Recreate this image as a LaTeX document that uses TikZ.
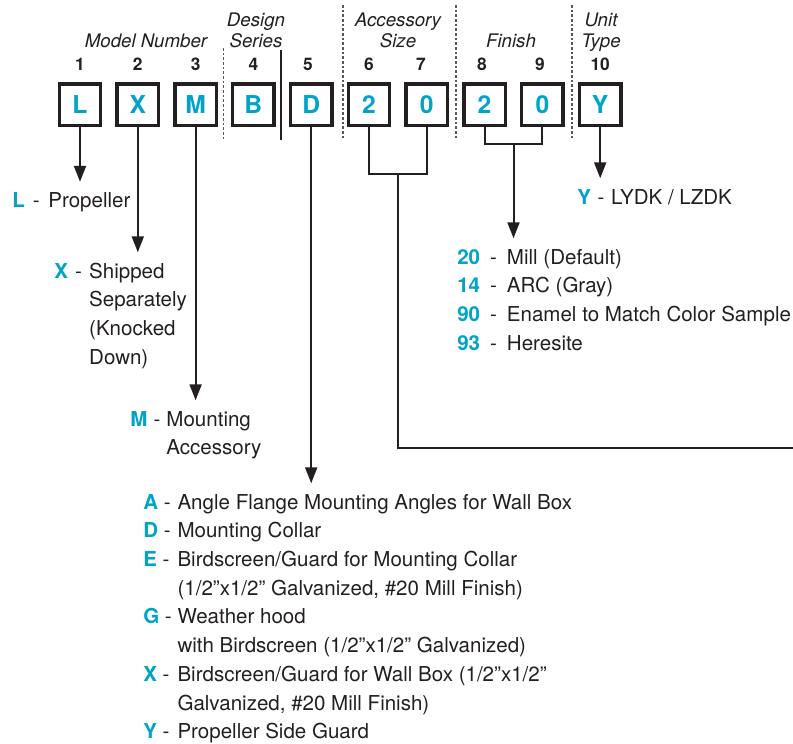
\documentclass[tikz,border=0pt]{standalone}
\usepackage{fontspec}
\setmainfont{TeX Gyre Heros}
\usetikzlibrary{arrows.meta}
\definecolor{codecyan}{RGB}{0,164,199}
\definecolor{inkgray}{RGB}{35,31,32}
\newcommand{\cde}[1]{\textcolor{codecyan}{\bfseries #1}}

\begin{document}
\begin{tikzpicture}[
    x=0.75pt, y=-0.75pt,
    every node/.style={inner sep=0pt, text=inkgray},
    digit/.style={draw=inkgray, line width=2.6pt, minimum size=31.1pt, font=\fontsize{18.5}{20}\selectfont\bfseries, text=codecyan},
    posnum/.style={anchor=base, font=\fontsize{13}{15}\selectfont\bfseries},
    grouplabel/.style={anchor=base, font=\fontsize{14}{15.75}\selectfont\itshape},
    note/.style={anchor=base west, font=\fontsize{15.4}{21.56}\selectfont},
    line/.style={draw=inkgray, line width=1.5pt},
    arrow/.style={line, -{Triangle[length=12pt,width=9pt]}, shorten >=4pt},
    divider/.style={draw=inkgray!75, line width=0.8pt, dash pattern=on 2pt off 1.5pt}
]
\useasboundingbox (0,0) rectangle (793,743);

% ---- group headings ----
\node[grouplabel] (gModel)  at (146,47) {Model Number};
\node[grouplabel] (gDesign) at (256,47) {\begin{tabular}[b]{@{}c@{}}Design\\Series\end{tabular}};
\node[grouplabel] (gSize)   at (398,47) {\begin{tabular}[b]{@{}c@{}}Accessory\\Size\end{tabular}};
\node[grouplabel] (gFinish) at (511,47) {Finish};
\node[grouplabel] (gUnit)   at (601,47) {\begin{tabular}[b]{@{}c@{}}Unit\\Type\end{tabular}};

% ---- position numbers ----
\node[posnum] (n1)  at (80,70)    {1};
\node[posnum] (n2)  at (137.8,70) {2};
\node[posnum] (n3)  at (195.6,70) {3};
\node[posnum] (n4)  at (253.4,70) {4};
\node[posnum] (n5)  at (308,70)   {5};
\node[posnum] (n6)  at (369,70)   {6};
\node[posnum] (n7)  at (421,70)   {7};
\node[posnum] (n8)  at (482,70)   {8};
\node[posnum] (n9)  at (540,70)   {9};
\node[posnum] (n10) at (600.2,70) {10};

% ---- code boxes ----
\node[digit] (bL) at (80,104.5)    {L};
\node[digit] (bX) at (137.8,104.5) {X};
\node[digit] (bM) at (195.6,104.5) {M};
\node[digit] (bB) at (253.4,104.5) {B};
\node[digit] (bD) at (311.2,104.5) {D};
\node[digit] (b6) at (369,104.5)   {2};
\node[digit] (b7) at (426.8,104.5) {0};
\node[digit] (b8) at (484.6,104.5) {2};
\node[digit] (b9) at (542.4,104.5) {0};
\node[digit] (bY) at (600.2,104.5) {Y};

% ---- separators between groups ----
\draw[divider] (223.5,48) -- (223.5,140);
\draw[draw=inkgray, line width=0.9pt] (281,50) -- (281,140);
\draw[divider] (343,5) -- (343,140);
\draw[divider] (456,5) -- (456,140);
\draw[divider] (572,5) -- (572,140);

% ---- option texts ----
\node[note] (lL) at (12,207.5) {\begin{tabular}[t]{@{}l@{\hspace{6.5pt}}l@{}}
  \cde{L}\hspace{6pt}- & Propeller\end{tabular}};
\node[note] (lX) at (54,278) {\begin{tabular}[t]{@{}l@{\hspace{5.4pt}}l@{}}
  \cde{X}\hspace{5.4pt}- & Shipped\\ & Separately\\ & (Knocked\\ & Down)\end{tabular}};
\node[note] (lM) at (130,426) {\begin{tabular}[t]{@{}l@{\hspace{4.6pt}}l@{}}
  \cde{M}\hspace{4.6pt}- & Mounting\\ & Accessory\end{tabular}};
\node[note] (lD) at (143,509) {\begin{tabular}[t]{@{}l@{\hspace{4.3pt}}l@{}}
  \cde{A}\hspace{4.3pt}- & Angle Flange Mounting Angles for Wall Box\\
  \cde{D}\hspace{4.3pt}- & Mounting Collar\\
  \cde{E}\hspace{4.3pt}- & Birdscreen/Guard for Mounting Collar\\
                         & (1/2”x1/2” Galvanized, \#20 Mill Finish)\\
  \cde{G}\hspace{4.3pt}- & Weather hood\\
                         & with Birdscreen (1/2”x1/2” Galvanized)\\
  \cde{X}\hspace{4.3pt}- & Birdscreen/Guard for Wall Box (1/2”x1/2”\\
                         & Galvanized, \#20 Mill Finish)\\
  \cde{Y}\hspace{4.3pt}- & Propeller Side Guard\end{tabular}};
\node[note] (lFin) at (457,264) {\begin{tabular}[t]{@{}l@{\hspace{7.5pt}}l@{}}
  \cde{20}\hspace{7.5pt}- & Mill (Default)\\
  \cde{14}\hspace{7.5pt}- & ARC (Gray)\\
  \cde{90}\hspace{7.5pt}- & Enamel to Match Color Sample\\
  \cde{93}\hspace{7.5pt}- & Heresite\end{tabular}};
\node[note] (lY) at (577,204) {\begin{tabular}[t]{@{}l@{\hspace{5pt}}l@{}}
  \cde{Y}\hspace{5pt}- & LYDK / LZDK\end{tabular}};

% ---- joins under the two-digit groups ----
\coordinate (accjoin) at (397.9,174);
\coordinate (accend)  at (793,448);
\coordinate (finjoin) at (513.5,144);

% ---- arrows down to the texts ----
\draw[arrow] (bL) -- (bL |- lL.north);
\draw[arrow] (bX) -- (bX |- lX.north);
\draw[arrow] (bM) -- (bM |- lM.north);
\draw[arrow] (bD) -- (bD |- lD.north);
\draw[arrow] (bY) -- (bY |- lY.north);

\draw[line] (b6.south) |- (accjoin) -| (b7.south);
\draw[line] (accjoin) |- (accend);
\draw[line] (b8.south) |- (finjoin) -| (b9.south);
\draw[arrow] (finjoin) -- (finjoin |- lFin.north);

\end{tikzpicture}
\end{document}
